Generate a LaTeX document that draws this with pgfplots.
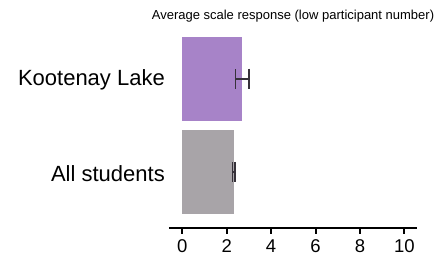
\documentclass[border=0pt]{standalone}
\usepackage{fontspec}
\setmainfont{Liberation Sans}
\usepackage{pgfplots}
\pgfplotsset{compat=1.18}
\definecolor{barpurple}{RGB}{167,131,200}
\definecolor{bargray}{RGB}{168,164,168}
\definecolor{errgray}{RGB}{55,50,58}
\begin{document}
\begin{tikzpicture}
\begin{axis}[
  at={(169pt,27.5pt)}, anchor=south west,
  scale only axis, width=248pt, height=200pt,
  xmin=-0.6, xmax=10.57, ymin=-0.595, ymax=1.549,
  axis x line*=bottom, axis y line*=left,
  x axis line style={-, line width=2pt},
  y axis line style={draw=none},
  xtick={0,2,4,6,8,10},
  ytick={0,1}, yticklabels={All students, Kootenay Lake},
  tick align=outside, major tick length=6pt,
  xtick style={line width=2pt, black},
  ytick style={draw=none},
  /pgf/number format/assume math mode=true,
  xticklabel style={font=\fontsize{18.5}{18.5}\selectfont, yshift=-3pt},
  yticklabel style={font=\fontsize{22}{22}\selectfont, inner sep=0pt, xshift=2pt, yshift=-1.5pt},
  title={Average scale response (low participant number)},
  title style={font=\fontsize{13}{13}\selectfont, at={(0.5,1)}, anchor=base, yshift=2.5pt},
  xbar, bar width=84pt, bar shift=0pt,
]
\addplot[fill=barpurple, draw=none,
  error bars/.cd, x dir=both, x explicit, error mark=|,
  error bar style={line width=1.6pt, errgray},
  error mark options={line width=1.6pt, errgray, mark size=10pt}]
  coordinates {(2.70,1) +- (0.30,0)};
\addplot[fill=bargray, draw=none,
  error bars/.cd, x dir=both, x explicit, error mark=|,
  error bar style={line width=1.6pt, errgray},
  error mark options={line width=1.6pt, errgray, mark size=10pt}]
  coordinates {(2.32,0) +- (0.06,0)};
\end{axis}
\path[use as bounding box] (0,0) rectangle (448pt,255pt);
\end{tikzpicture}
\end{document}
